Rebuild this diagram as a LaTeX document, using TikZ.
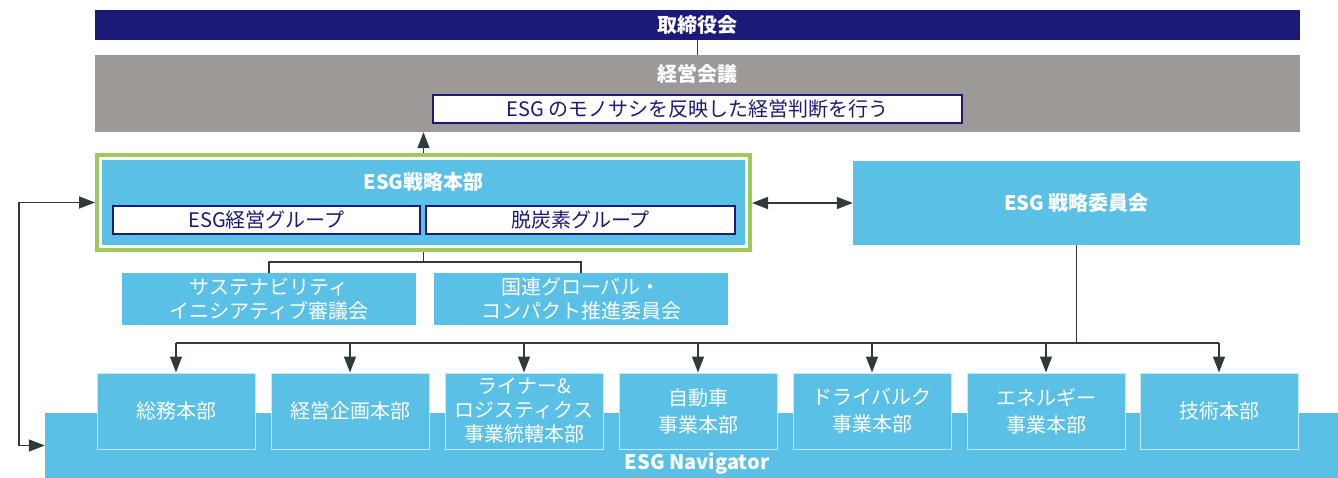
\documentclass[tikz,border=0pt]{standalone}
\usepackage{fontspec}
\setmainfont{Noto Sans CJK JP}
\usetikzlibrary{arrows.meta,fit}

\definecolor{boardnavy}{HTML}{1B1A78}
\definecolor{mgmtgray}{HTML}{9D9996}
\definecolor{esgblue}{HTML}{5BC0E6}
\definecolor{hqgreen}{HTML}{9CCB59}
\definecolor{linkgray}{HTML}{2F3B3B}

\newcommand\bodyfont{\fontsize{20}{24}\selectfont}

\tikzset{
  title/.style={text=white, inner sep=0pt, font=\bodyfont\bfseries},
  whitebox/.style={fill=white, draw=boardnavy, line width=1.5, text=boardnavy,
    inner sep=0pt, font=\bodyfont},
  subbox/.style={fill=esgblue, text=white, minimum width=294, minimum height=52,
    inner sep=0pt, align=center, font=\bodyfont},
  dept/.style={fill=esgblue, draw=white!65!esgblue, line width=1, text=white,
    minimum width=158, minimum height=76, inner sep=0pt, align=center,
    font=\fontsize{20}{27}\selectfont},
  link/.style={draw=linkgray, line width=1.5},
  tip/.style={-{Triangle[length=16pt,width=12pt]}},
  bothtips/.style={{Triangle[length=16pt,width=12pt]}-{Triangle[length=16pt,width=12pt]}}
}

\begin{document}
\begin{tikzpicture}[x=1pt, y=-1pt]
  \useasboundingbox (0,0) rectangle (1338,478);

  % board and management meeting
  \node (board) at (697.5,25) [fill=boardnavy, minimum width=1205, minimum height=30,
    inner sep=0pt, text=white, font=\bodyfont\bfseries] {取締役会};
  \node (mgmt) at (697.5,93.5) [fill=mgmtgray, minimum width=1205, minimum height=77] {};
  \node (mgmttitle) at (697.5,74) [title] {経営会議};
  \node (motto) at (697.5,109) [whitebox, minimum width=529, minimum height=28]
    {ESG のモノサシを反映した経営判断を行う};

  % ESG strategy headquarters
  \node (hq) at (423.5,202.5) [fill=esgblue, draw=white, line width=3,
    minimum width=646, minimum height=88] {};
  \node (hqframe) [fit=(hq), inner sep=2pt, draw=hqgreen, line width=4] {};
  \node (hqtitle) at (423.5,182) [title] {ESG戦略本部};
  \node (grp1) at (266.5,220) [whitebox, minimum width=307, minimum height=28] {ESG経営グループ};
  \node (grp2) at (580.5,220) [whitebox, minimum width=309, minimum height=28] {脱炭素グループ};

  \node (cmte) at (1076.5,203) [fill=esgblue, minimum width=447, minimum height=84,
    title] {ESG 戦略委員会};

  \node (sust) at (269,299) [subbox] {サステナビリティ\\イニシアティブ審議会};
  \node (ungc) at (581,299) [subbox] {国連グローバル・\\コンパクト推進委員会};

  % navigator band and departments
  \node (nav) at (691.5,445.5) [fill=esgblue, minimum width=1293, minimum height=65,
    inner sep=0pt] {};
  \draw
    (176,411) node[dept] (d1) {総務本部}
    (350,411) node[dept] (d2) {経営企画本部}
    (524,411) node[dept, font=\fontsize{20}{24}\selectfont] (d3) {ライナー\&\\ロジスティクス\\事業統轄本部}
    (698,411) node[dept] (d4) {自動車\\事業本部}
    (872,411) node[dept] (d5) {ドライバルク\\事業本部}
    (1046,411) node[dept] (d6) {エネルギー\\事業本部}
    (1219,411) node[dept] (d7) {技術本部};
  \node (navtitle) at (697,464) [title] {ESG Navigator};

  \begin{scope}[link]
    \draw (board) -- (mgmt);
    \draw[tip] (hqframe.north) -- (hqframe.north |- mgmt.south);
    \draw[bothtips] (hqframe.east |- cmte.west) -- (cmte.west);
    \draw (hqframe.south) -- ++(0,10) coordinate (fork);
    \draw (sust.north) |- (fork) -| (ungc.north);
    \draw (cmte.south) -- ++(0,98) coordinate (fan);
    \draw (d1.north |- fan) -- (d7.north |- fan);
    \draw[tip] (d1.north |- fan) -- (d1.north);
    \draw[tip] (d2.north |- fan) -- (d2.north);
    \draw[tip] (d3.north |- fan) -- (d3.north);
    \draw[tip] (d4.north |- fan) -- (d4.north);
    \draw[tip] (d5.north |- fan) -- (d5.north);
    \draw[tip] (d6.north |- fan) -- (d6.north);
    \draw[tip] (d7.north |- fan) -- (d7.north);
    \draw[bothtips] (hqframe.west) -- ++(-76,0) |- (nav.west);
  \end{scope}
\end{tikzpicture}
\end{document}
